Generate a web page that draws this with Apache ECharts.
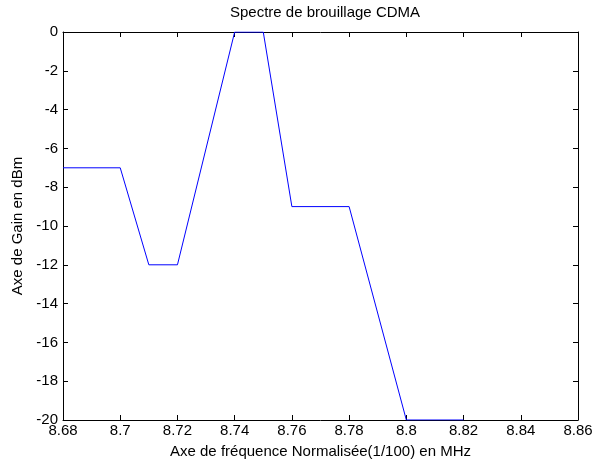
<!DOCTYPE html>
<html><head><meta charset="utf-8">
<script src="https://cdn.jsdelivr.net/npm/echarts@6/dist/echarts.min.js"></script>
<style>html,body{margin:0;padding:0;background:#fff}#c{width:600px;height:464px}</style>
</head><body><div id="c"></div>
<script>
var freq = [8.68, 8.70, 8.71, 8.72, 8.74, 8.75, 8.76, 8.78, 8.80, 8.82];
var gain = [-7, -7, -12, -12, 0, 0, -9, -9, -20, -20];
var title = 'Spectre de brouillage CDMA';
var xName = 'Axe de fréquence Normalisée(1/100) en MHz';
var yName = 'Axe de Gain en dBm';

var font = 'Liberation Sans, Arial, sans-serif';
var chart = echarts.init(document.getElementById('c'), null, {renderer: 'canvas'});
var axCommon = {
  axisLine: {show: true, onZero: false, lineStyle: {color: '#000', width: 1}},
  axisTick: {show: true, inside: true, length: 5, lineStyle: {color: '#000'}},
  splitLine: {show: false}
};
var data = freq.map(function (f, i) { return [f, gain[i]]; });
chart.setOption({
  animation: false,
  backgroundColor: '#fff',
  title: {text: title, left: 320, textAlign: 'center', top: 0, textStyle: {fontFamily: font, fontSize: 15, fontWeight: 'normal', color: '#000'}},
  grid: {left: 63, right: 22, top: 32, bottom: 44},
  xAxis: [
    Object.assign({type: 'value', min: 8.68, max: 8.86, interval: 0.02, position: 'bottom',
      name: xName, nameLocation: 'middle', nameGap: 24,
      nameTextStyle: {fontFamily: font, fontSize: 15, color: '#000'},
      axisLabel: {fontFamily: font, fontSize: 15, color: '#000', margin: 3,
        formatter: function (v) { return String(parseFloat(v.toFixed(2))); }}}, axCommon),
    Object.assign({type: 'value', min: 8.68, max: 8.86, interval: 0.02, position: 'top',
      axisLabel: {show: false}}, axCommon)
  ],
  yAxis: [
    Object.assign({type: 'value', min: -20, max: 0, interval: 2, position: 'left',
      name: yName, nameLocation: 'middle', nameGap: 38, nameRotate: 90,
      nameTextStyle: {fontFamily: font, fontSize: 15, color: '#000'},
      axisLabel: {fontFamily: font, fontSize: 15, color: '#000', margin: 5}}, axCommon),
    Object.assign({type: 'value', min: -20, max: 0, interval: 2, position: 'right',
      axisLabel: {show: false}}, axCommon)
  ],
  series: [{
    type: 'line', data: data, xAxisIndex: 0, yAxisIndex: 0,
    showSymbol: false, symbol: 'none', z: 10,
    lineStyle: {color: '#0000ff', width: 1}
  }]
});
</script></body></html>
